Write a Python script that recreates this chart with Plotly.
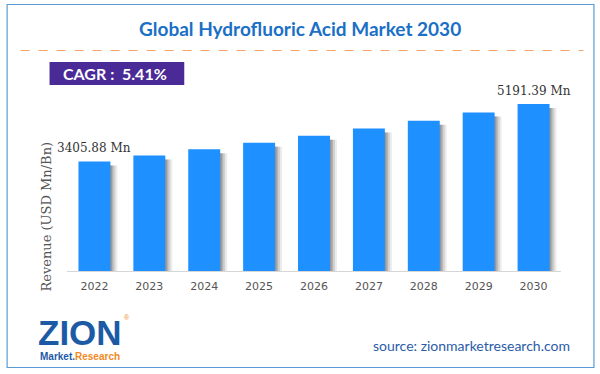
import plotly.graph_objects as go

# ---- data ----
years = ["2022", "2023", "2024", "2025", "2026", "2027", "2028", "2029", "2030"]
revenue = [3405.88, 3590.1, 3784.3, 3989.0, 4204.8, 4432.3, 4672.1, 4924.8, 5191.39]
first_label = "3405.88 Mn"
last_label = "5191.39 Mn"
title_text = "Global Hydrofluoric Acid Market 2030"
cagr_text = "CAGR :  5.41%"
source_text = "source: zionmarketresearch.com"
ytitle_text = "Revenue (USD Mn/Bn)"

W, H = 600, 374
ML, MR, MT, MB = 66.5, 38.5, 90, 103
PW = W - ML - MR
PH = H - MT - MB


def px(x):
    return (x - ML) / PW


def py(y):
    return (H - MB - y) / PH


BAR_W = 0.582
BAR_OFF = -BAR_W / 2
UNIT = 1 / 55.0  # category units per pixel
Y_MAX = 5626

fig = go.Figure()

# soft shadow layers to the right of each bar
shadow_drop = [v - 4 / (PH / Y_MAX) for v in revenue]
for k, a in [(7, 0.10), (5, 0.16), (3, 0.22), (1.5, 0.25)]:
    fig.add_trace(go.Bar(
        x=years, y=shadow_drop, width=[BAR_W] * len(years),
        offset=[BAR_OFF + k * UNIT] * len(years),
        marker=dict(color=f"rgba(70,70,70,{a})", line=dict(width=0)),
        hoverinfo="skip", showlegend=False,
    ))

fig.add_trace(go.Bar(
    x=years, y=revenue, width=[BAR_W] * len(years), offset=[BAR_OFF] * len(years),
    marker=dict(color="#1e90ff", line=dict(width=0)),
    showlegend=False,
))

fig.update_layout(
    width=W, height=H,
    margin=dict(l=ML, r=MR, t=MT, b=MB, pad=0),
    paper_bgcolor="white", plot_bgcolor="white",
    barmode="overlay",
    xaxis=dict(
        type="category", categoryorder="array", categoryarray=years,
        range=[-0.5, len(years) - 0.5], autorange=False,
        showgrid=False, zeroline=False,
        showline=True, linecolor="#d6d6d6", linewidth=1,
        ticks="", tickfont=dict(family="DejaVu Sans", size=11, color="#555555"),
        ticklabelstandoff=5,
    ),
    yaxis=dict(range=[0, Y_MAX], autorange=False, visible=False, showgrid=False, zeroline=False),
    shapes=[
        # outer border
        dict(type="rect", xref="paper", yref="paper",
             x0=px(6.5), x1=px(594.5), y0=py(4.5), y1=py(367.5),
             line=dict(color="#5b9bd5", width=1.2), fillcolor="rgba(0,0,0,0)", layer="below"),
        # dashed separator
        dict(type="line", xref="paper", yref="paper",
             x0=px(20), x1=px(584), y0=py(50.5), y1=py(50.5),
             line=dict(color="#f4a46a", width=1.2, dash="dash")),
        # CAGR box
        dict(type="rect", xref="paper", yref="paper",
             x0=px(49), x1=px(184), y0=py(62), y1=py(85),
             line=dict(width=0), fillcolor="#4a2a96"),
    ],
)

ann = []
ann.append(dict(text=f"<b>{title_text}</b>", xref="paper", yref="paper",
                x=px(300), y=py(28), showarrow=False, xanchor="center", yanchor="middle",
                font=dict(family="Lato", size=19, color="#1a6fc6")))
ann.append(dict(text=f"<b>{cagr_text}</b>", xref="paper", yref="paper",
                x=px(60), y=py(73.5), showarrow=False, xanchor="left", yanchor="middle",
                font=dict(family="Lato", size=16, color="white")))
ann.append(dict(text=first_label, x=0, y=revenue[0], yshift=4,
                showarrow=False, xanchor="center", yanchor="bottom",
                font=dict(family="DejaVu Serif", size=12, color="#333333")))
ann.append(dict(text=last_label, x=len(years) - 1, y=revenue[-1], yshift=4,
                showarrow=False, xanchor="center", yanchor="bottom",
                font=dict(family="DejaVu Serif", size=12, color="#333333")))
ann.append(dict(text=ytitle_text, xref="paper", yref="paper", textangle=-90,
                x=px(45), y=py(217), showarrow=False, xanchor="center", yanchor="middle",
                font=dict(family="DejaVu Serif", size=13, color="#555555")))
ann.append(dict(text=source_text, xref="paper", yref="paper",
                x=px(573), y=py(345), showarrow=False, xanchor="right", yanchor="middle",
                font=dict(family="Lato", size=14, color="#2a5ca8")))
# logo approximation
ann.append(dict(text="<b>ZION</b>", xref="paper", yref="paper",
                x=px(80), y=py(332), showarrow=False, xanchor="center", yanchor="middle",
                font=dict(family="Liberation Sans", size=35, color="#1d5aa6")))
ann.append(dict(text="<b>Market.<span style='color:#f08a24'>Research</span></b>", xref="paper", yref="paper",
                x=px(80), y=py(356), showarrow=False, xanchor="center", yanchor="middle",
                font=dict(family="Liberation Sans", size=10, color="#1d5aa6")))
ann.append(dict(text="®", xref="paper", yref="paper",
                x=px(127), y=py(317), showarrow=False, xanchor="center", yanchor="middle",
                font=dict(family="Liberation Sans", size=7, color="#f08a24")))
fig.update_layout(annotations=ann)

fig.write_html("out.html", config={"displayModeBar": False},
               post_script="document.body.style.margin='0';document.body.style.padding='0';")
